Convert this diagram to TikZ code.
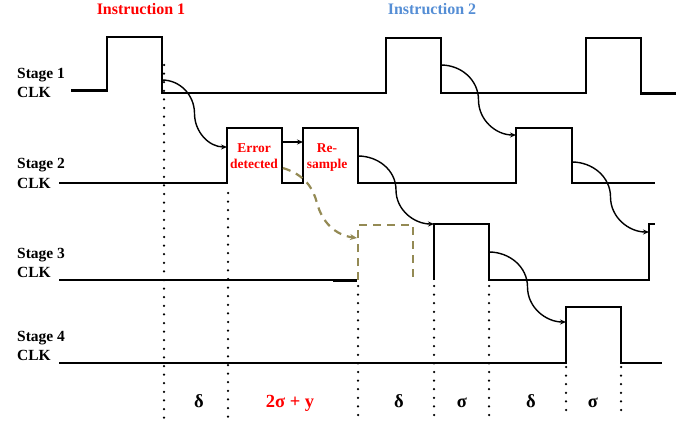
\documentclass[tikz,border=0pt]{standalone}
\usepackage{fontspec}
\setmainfont{Liberation Serif}
\usetikzlibrary{arrows.meta,calc}
\definecolor{errred}{RGB}{255,0,0}
\definecolor{insblue}{RGB}{85,142,213}
\definecolor{olivedash}{RGB}{148,138,84}
\begin{document}
\begin{tikzpicture}[x=1pt,y=-1pt,
  signal/.style={line width=2pt, line join=miter},
  lead/.style={line width=3pt},
  handoff/.style={line width=1.4pt, -{Stealth[length=6pt,width=5pt]}},
  guide/.style={line width=2.5pt, line cap=round, dash pattern=on 0pt off 8.6pt},
  retry/.style={olivedash, line width=2.2pt, dash pattern=on 8pt off 6pt},
  stagelbl/.style={font=\bfseries\fontsize{15.5}{18}\selectfont, anchor=base west, inner sep=0pt},
  instr/.style={font=\bfseries\fontsize{16}{18}\selectfont, anchor=base, inner sep=0pt},
  boxlbl/.style={font=\bfseries\fontsize{13.5}{15}\selectfont, text=errred, anchor=base, inner sep=0pt},
  interval/.style={font=\bfseries\fontsize{18.5}{20}\selectfont, anchor=base, inner sep=0pt},
]
\useasboundingbox (0,0) rectangle (692,425);

% headings
\node[instr, text=errred] (ins1) at (141,15) {Instruction 1};
\node[instr, text=insblue] (ins2) at (432,15) {Instruction 2};

% stage labels
\node[stagelbl] (st1) at (17,79) {Stage 1};
\node[stagelbl] (ck1) at (17,97) {CLK};
\node[stagelbl] (st2) at (17,168) {Stage 2};
\node[stagelbl] (ck2) at (17,188) {CLK};
\node[stagelbl] (st3) at (17,258) {Stage 3};
\node[stagelbl] (ck3) at (17,277) {CLK};
\node[stagelbl] (st4) at (17,341) {Stage 4};
\node[stagelbl] (ck4) at (17,360) {CLK};

% clock edges used by the hand-off arrows
\coordinate (s1fa) at (162,80);
\coordinate (s1fb) at (441,65);
\coordinate (s2ra) at (227,147);
\coordinate (s2rb) at (516,135);
\coordinate (s2fa) at (358,156);
\coordinate (s2fb) at (572,162);
\coordinate (s3ra) at (434,224);
\coordinate (s3rb) at (649,232);
\coordinate (s3fa) at (489,252);
\coordinate (s4ra) at (566,322);

% stage 1 clock
\draw[lead] (71,91) -- (106,91);
\draw[signal] (106,91) -- (107,91) -- (107,37) -- (162,37) -- (162,93) -- (386,93)
  -- (386,38) -- (441,38) -- (441,93) -- (586,93) -- (586,38) -- (641,38) -- (641,94);
\draw[lead] (640,94) -- (676,94);

% stage 2 clock
\draw[signal] (59,183) -- (227,183) -- (227,128) -- (282,128) -- (282,183) -- (303,183)
  -- (303,128) -- (358,128) -- (358,183) -- (516,183) -- (516,128) -- (572,128)
  -- (572,183) -- (655,183);

% stage 3 clock
\draw[signal] (59,280) -- (357,280);
\draw[lead] (333,280) -- (357,280);
\draw[signal] (434,280) -- (434,224) -- (489,224) -- (489,280) -- (649,280)
  -- (649,224) -- (655,224);

% stage 4 clock
\draw[signal] (59,363) -- (566,363) -- (566,307) -- (621,307) -- (621,363) -- (662,363);

% replayed stage 3 pulse after re-sampling
\draw[retry] (358,280) -- (358,225) -- (413,225) -- (413,280);
\coordinate (errtail) at (283,168);
\coordinate (retryin) at (357,238);
\draw[retry, -{Stealth[length=7pt,width=6pt]}] (errtail) .. controls (305,175) and (313,188) .. (317,203)
  .. controls (322,222) and (335,235) .. (retryin);

% timing guides
\draw[guide] (164,65) -- (164,422);
\draw[guide] (228,193) -- (228,422);
\draw[guide] (358,286) -- (358,422);
\draw[guide] (434,286) -- (434,422);
\draw[guide] (489,286) -- (489,422);
\draw[guide] (566,367) -- (566,418);
\draw[guide] (621,367) -- (621,418);

% hand-off arrows between stages
\foreach \a/\b in {s1fa/s2ra, s1fb/s2rb, s2fa/s3ra, s2fb/s3rb, s3fa/s4ra}{
  \draw[handoff] (\a) to[out=0,in=90] ($(\a)!0.5!(\b)$) to[out=-90,in=180] (\b);
}

% error detection and re-sampling
\node[boxlbl] (err1) at (254,152) {Error};
\node[boxlbl] (err2) at (254,168) {detected};
\node[boxlbl] (rs1) at (327,152) {Re-};
\node[boxlbl] (rs2) at (327,168) {sample};
\coordinate (errend) at (282,142);
\coordinate (rsbeg) at (303,142);
\draw[handoff] (errend) -- (rsbeg);

% interval labels
\node[interval] (d1) at (199,407) {δ};
\node[interval, text=errred] (d2) at (290,407) {2σ + y};
\node[interval] (d3) at (399,407) {δ};
\node[interval] (d4) at (462,407) {σ};
\node[interval] (d5) at (531,407) {δ};
\node[interval] (d6) at (593,407) {σ};
\end{tikzpicture}
\end{document}
